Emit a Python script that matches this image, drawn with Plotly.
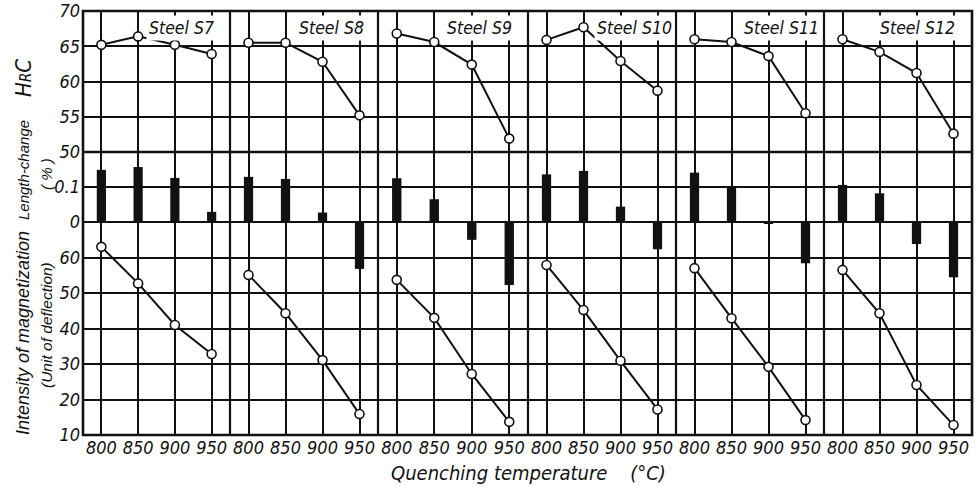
import plotly.graph_objects as go

# ---------------- data ----------------
temps = [800, 850, 900, 950]
steels = ["Steel S7", "Steel S8", "Steel S9", "Steel S10", "Steel S11", "Steel S12"]

hrc = [
    [65.2, 66.4, 65.2, 63.9],   # S7
    [65.5, 65.5, 62.8, 55.2],   # S8
    [66.8, 65.6, 62.4, 51.9],   # S9
    [65.9, 67.7, 62.9, 58.7],   # S10
    [66.0, 65.6, 63.6, 55.5],   # S11
    [66.0, 64.2, 61.2, 52.6],   # S12
]

length_change = [
    [0.149, 0.157, 0.126, 0.029],
    [0.129, 0.123, 0.027, -0.134],
    [0.125, 0.065, -0.051, -0.180],
    [0.136, 0.146, 0.044, -0.078],
    [0.141, 0.101, -0.003, -0.118],
    [0.106, 0.082, -0.063, -0.158],
]

magnetization = [
    [63.0, 52.7, 41.0, 32.8],
    [55.1, 44.3, 31.1, 15.9],
    [53.7, 43.0, 27.2, 13.7],
    [57.9, 45.2, 30.9, 17.2],
    [57.0, 42.9, 29.2, 14.2],
    [56.5, 44.3, 24.1, 12.8],
]

hrc_ticks = [50, 55, 60, 65, 70]
lc_ticks = [0, 0.1]
lc_ticktext = ["0", "0.1"]
mag_ticks = [10, 20, 30, 40, 50, 60]

# ---------------- layout geometry ----------------
W, H = 977, 486
col_edges = [83, 230, 378, 528, 676, 824, 972]
label_right = [0.91, 0.926, 0.913, 0.99, 0.985, 0.905]
TOP, MID, BOT = 11, 152, 435

def px_y(p):
    return 1 - p / H

FONT = "Liberation Sans Narrow, DejaVu Sans Condensed, Arial Narrow, DejaVu Sans, sans-serif"
TFONT = "Liberation Sans, Arial, DejaVu Sans, sans-serif"
BLACK = "#111111"
GRID_W = 1.7
BORDER_W = 2.6

fig = go.Figure()
layout = dict(
    width=W, height=H,
    margin=dict(l=0, r=0, t=0, b=0, autoexpand=False),
    paper_bgcolor="white", plot_bgcolor="rgba(0,0,0,0)",
    showlegend=False,
    font=dict(family=FONT, color=BLACK),
)

marker_style = dict(symbol="circle", size=9, color="white", line=dict(color=BLACK, width=1.6))

for i in range(6):
    n = "" if i == 0 else str(i + 1)
    xa = "x" + n
    fig.add_trace(go.Scatter(
        x=temps, y=hrc[i], xaxis=xa, yaxis="y", mode="lines+markers",
        line=dict(color=BLACK, width=2), marker=marker_style, cliponaxis=False,
    ))
    fig.add_trace(go.Bar(
        x=temps, y=length_change[i], xaxis=xa, yaxis="y2",
        width=12.5, marker=dict(color=BLACK, line=dict(width=0)),
    ))
    fig.add_trace(go.Scatter(
        x=temps, y=magnetization[i], xaxis=xa, yaxis="y3", mode="lines+markers",
        line=dict(color=BLACK, width=2), marker=marker_style, cliponaxis=False,
    ))
    layout["xaxis" + n] = dict(
        domain=[col_edges[i] / W, col_edges[i + 1] / W],
        range=[775, 975], anchor="y2",
        tickvals=temps, ticktext=[str(t) for t in temps],
        ticks="", showgrid=True, gridcolor=BLACK, gridwidth=GRID_W,
        zeroline=False, showline=False, automargin=False,
        tickfont=dict(size=18, style="italic", family=FONT, color=BLACK),
        fixedrange=True,
    )

ytick_font = dict(size=18, style="italic", family=FONT, color=BLACK)
layout["yaxis"] = dict(
    domain=[px_y(MID), px_y(TOP)], range=[50, 70], anchor="x",
    tickvals=hrc_ticks, ticks="", showgrid=True, gridcolor=BLACK, gridwidth=GRID_W,
    zeroline=False, showline=False, tickfont=ytick_font, ticklabelstandoff=2,
    automargin=False,
)
layout["yaxis2"] = dict(
    domain=[px_y(BOT), px_y(MID)], range=[-(BOT - 222) / 350, 0.2], anchor="x",
    tickvals=lc_ticks, ticktext=lc_ticktext, ticks="", showgrid=True,
    gridcolor=BLACK, gridwidth=GRID_W,
    zeroline=True, zerolinecolor=BLACK, zerolinewidth=2.2,
    showline=False, tickfont=ytick_font, ticklabelstandoff=2, automargin=False,
)
layout["yaxis3"] = dict(
    overlaying="y2", anchor="x", side="left",
    range=[10, 70 + (222 - MID) / 3.55],
    tickvals=mag_ticks, ticks="", showgrid=True, gridcolor=BLACK, gridwidth=GRID_W,
    zeroline=False, showline=False, tickfont=ytick_font, ticklabelstandoff=2,
    automargin=False,
)

# frame lines (borders of the panel grid)
shapes = [dict(type="rect", xref="paper", yref="paper",
               x0=col_edges[0] / W, x1=col_edges[-1] / W, y0=px_y(BOT), y1=px_y(TOP),
               line=dict(color=BLACK, width=BORDER_W), layer="above")]
for e in col_edges[1:-1]:
    shapes.append(dict(type="line", xref="paper", yref="paper",
                       x0=e / W, x1=e / W, y0=px_y(BOT), y1=px_y(TOP),
                       line=dict(color=BLACK, width=2.2), layer="above"))
shapes.append(dict(type="line", xref="paper", yref="paper",
                   x0=col_edges[0] / W, x1=col_edges[-1] / W, y0=px_y(MID), y1=px_y(MID),
                   line=dict(color=BLACK, width=BORDER_W), layer="above"))
layout["shapes"] = shapes

annotations = []
for i, s in enumerate(steels):
    n = "" if i == 0 else str(i + 1)
    annotations.append(dict(
        text=s, xref="x" + n + " domain", yref="paper",
        x=label_right[i], y=px_y(28), xanchor="right", yanchor="middle",
        showarrow=False, bgcolor="white", borderpad=2,
        font=dict(size=17.5, style="italic", family=FONT, color=BLACK),
    ))

def side_title(text, xpx, ypx, size=18, family=TFONT):
    return dict(text=text, xref="paper", yref="paper", x=xpx / W, y=px_y(ypx),
                xanchor="center", yanchor="middle", textangle=-90, showarrow=False,
                font=dict(size=size, style="italic", family=family, color=BLACK))

annotations += [
    side_title("H<span style='font-size:15px'>R</span>C", 23, 78, 22, FONT),
    side_title("Length-change", 23, 170, 15),
    side_title("(\u00a0%\u00a0)", 46, 174, 15),
    side_title("Intensity of magnetization", 23, 333, 18),
    side_title("(Unit of deflection)", 46, 325, 15.5),
    dict(text="Quenching temperature\u00a0\u00a0\u00a0\u00a0(\u00b0C)", xref="paper", yref="paper",
         x=528 / W, y=px_y(473), xanchor="center", yanchor="middle", showarrow=False,
         font=dict(size=20, style="italic", family=FONT, color=BLACK)),
]
layout["annotations"] = annotations

fig.update_layout(**layout)
fig.write_html(
    "out.html",
    config={"displayModeBar": False},
    post_script="document.body.style.margin='0';document.body.style.overflow='hidden';",
)
